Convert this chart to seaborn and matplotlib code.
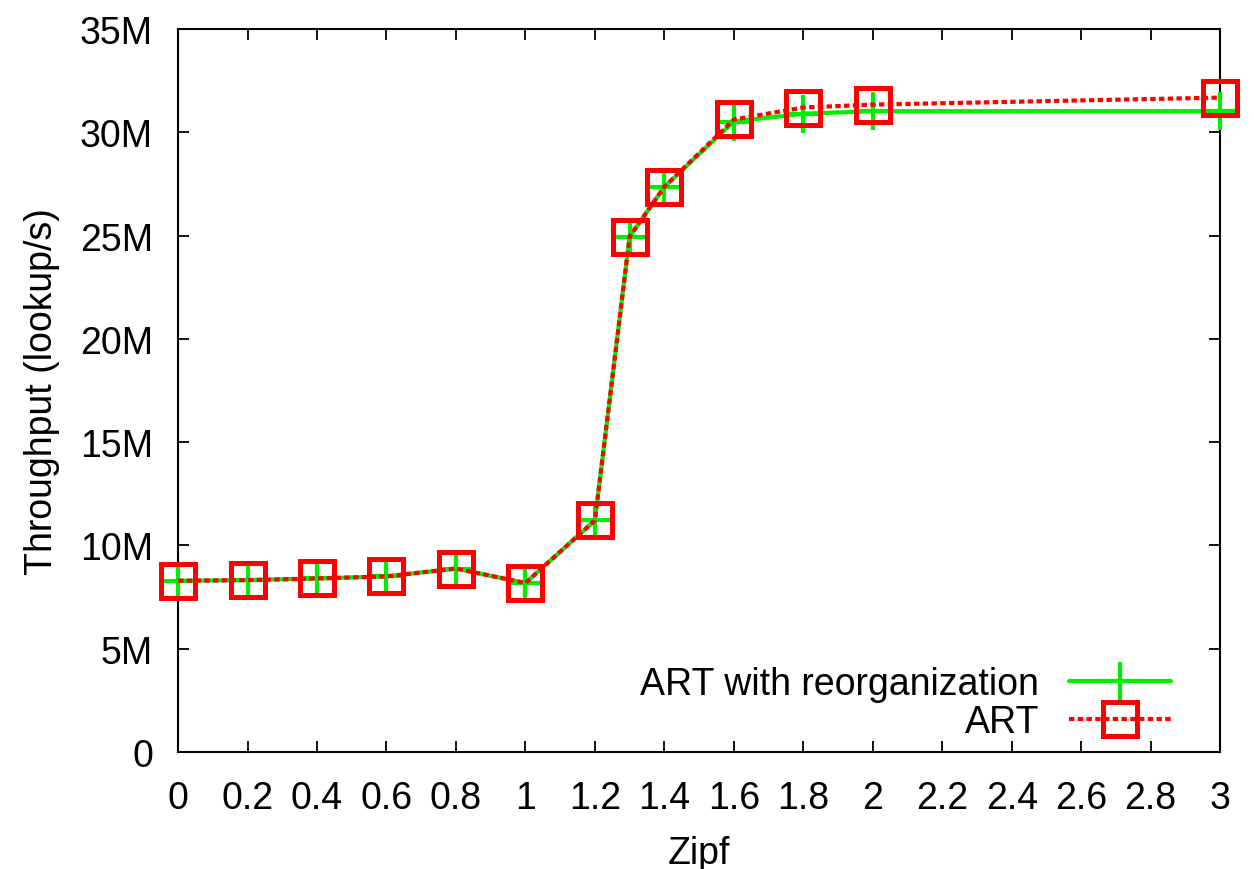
import numpy as np
import pandas as pd
import matplotlib
matplotlib.use("Agg")
import matplotlib.pyplot as plt
import seaborn as sns
from matplotlib.ticker import FuncFormatter

# data (throughput in millions of lookups/s)
zipf = [0, 0.2, 0.4, 0.6, 0.8, 1.0, 1.2, 1.3, 1.4, 1.6, 1.8, 2.0, 3.0]
art_reorg = [8.29, 8.32, 8.40, 8.50, 8.88, 8.18, 11.21, 24.95, 27.36, 30.52, 30.90, 31.02, 31.02]
art = [8.29, 8.32, 8.40, 8.50, 8.88, 8.18, 11.21, 24.95, 27.36, 30.62, 31.20, 31.34, 31.68]
xticks = [0, 0.2, 0.4, 0.6, 0.8, 1, 1.2, 1.4, 1.6, 1.8, 2, 2.2, 2.4, 2.6, 2.8, 3]
xticklabels = ["0", "0.2", "0.4", "0.6", "0.8", "1", "1.2", "1.4", "1.6", "1.8",
               "2", "2.2", "2.4", "2.6", "2.8", "3"]

df = pd.DataFrame({
    "zipf": zipf * 2,
    "tput": [v * 1e6 for v in art_reorg] + [v * 1e6 for v in art],
    "series": ["ART with reorganization"] * len(zipf) + ["ART"] * len(zipf),
})

sns.set_style("ticks")
plt.rcParams["font.family"] = ["Liberation Sans", "DejaVu Sans"]
plt.rcParams["text.color"] = "black"
plt.rcParams["axes.labelcolor"] = "black"

fig = plt.figure(figsize=(12.54, 8.7), dpi=100)
ax = fig.add_axes([0.142, 0.1345, 0.831, 0.831])

sns.lineplot(data=df[df.series == "ART with reorganization"], x="zipf", y="tput",
             ax=ax, color="#00ee00", lw=3, marker="+", markersize=28,
             markeredgewidth=3, markeredgecolor="#00ee00",
             label="ART with reorganization", clip_on=False, zorder=3)
sns.lineplot(data=df[df.series == "ART"], x="zipf", y="tput", ax=ax,
             color="#ff0000", lw=3, linestyle=(0, (1.3, 0.8)), marker="s",
             markersize=24, markeredgewidth=3.6, markerfacecolor="none",
             markeredgecolor="#ff0000", label="ART", clip_on=False, zorder=4)

ax.set_xlim(0, 3)
ax.set_ylim(0, 35e6)
ax.set_xticks(xticks)
ax.set_xticklabels(xticklabels)
ax.set_yticks(np.arange(0, 36e6, 5e6))
ax.yaxis.set_major_formatter(FuncFormatter(lambda v, p: "0" if v == 0 else f"{int(v / 1e6)}M"))

for s in ax.spines.values():
    s.set_visible(True)
    s.set_linewidth(1.5)
    s.set_color("black")
ax.tick_params(direction="in", length=8, width=1.3, top=True, right=True,
               labelsize=27, colors="black")
ax.tick_params(axis="x", pad=20)
ax.tick_params(axis="y", pad=18)

ax.set_xlabel("Zipf", fontsize=27, labelpad=14)
ax.set_ylabel("Throughput (lookup/s)", fontsize=27, labelpad=14)

ax.legend(loc="lower right", frameon=False, markerfirst=False, fontsize=27,
          handlelength=2.7, bbox_to_anchor=(0.974, -0.015), borderaxespad=0.2,
          labelspacing=0.05, handletextpad=0.8)

fig.savefig("out.png", dpi=100)
